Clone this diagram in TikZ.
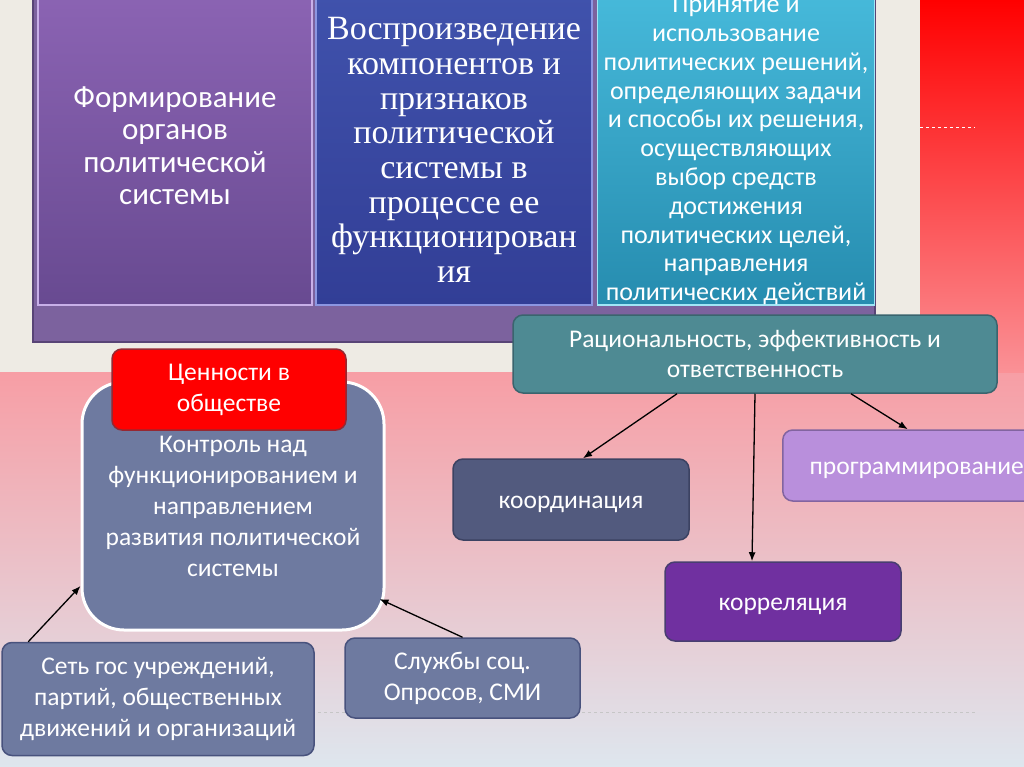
\documentclass[tikz,border=0pt]{standalone}
\usepackage{fontspec}
\setmainfont{Carlito}
\newfontfamily\cambria{Liberation Serif}
\usepackage{tikz}
\usetikzlibrary{arrows.meta,positioning,calc}

\definecolor{slidebeige}{RGB}{238,235,228}
\definecolor{pinktop}{RGB}{247,158,165}
\definecolor{pinkmid}{RGB}{244,216,224}
\definecolor{bluegray}{RGB}{222,230,238}
\definecolor{redfade}{RGB}{250,145,150}
\definecolor{formtop}{RGB}{140,100,180}
\definecolor{formbot}{RGB}{104,74,145}
\definecolor{formedge}{RGB}{200,175,232}
\definecolor{reprotop}{RGB}{64,82,172}
\definecolor{reprobot}{RGB}{50,62,150}
\definecolor{reproedge}{RGB}{140,150,225}
\definecolor{adopttop}{RGB}{70,185,218}
\definecolor{adoptbot}{RGB}{38,140,175}
\definecolor{adoptedge}{RGB}{160,230,245}
\definecolor{framefill}{RGB}{124,98,158}
\definecolor{frameedge}{RGB}{88,68,118}
\definecolor{ratfill}{RGB}{78,138,147}
\definecolor{ratedge}{RGB}{58,100,110}
\definecolor{slatefill}{RGB}{110,122,160}
\definecolor{slateedge}{RGB}{72,82,125}
\definecolor{valueedge}{RGB}{150,40,50}
\definecolor{coordfill}{RGB}{82,90,126}
\definecolor{coordedge}{RGB}{60,66,98}
\definecolor{progfill}{RGB}{185,143,220}
\definecolor{progedge}{RGB}{130,100,160}
\definecolor{corrfill}{RGB}{112,48,160}
\definecolor{corredge}{RGB}{72,62,112}

\begin{document}
\begin{tikzpicture}[
  x=1pt, y=-1pt,
  pillar/.style={align=center, text=white, inner sep=0pt, line width=1.5pt, minimum height=310},
  box/.style={draw, rounded corners=10pt, line width=1.5pt, align=center, text=white, inner sep=0pt,
    font=\fontsize{25.5}{31}\selectfont},
  oneline/.style={text height=18pt, text depth=0pt},
  link/.style={-{Latex[length=9pt,width=7pt]}, line width=1.3pt}
]
\useasboundingbox (0,0) rectangle (1024,767);
\clip (0,0) rectangle (1024,767);

% background
\shade[top color=pinktop, middle color=pinkmid, bottom color=bluegray] (0,372) rectangle (1024,767);
\shade[top color=red, bottom color=redfade] (920,0) rectangle (1024,372);
\fill[slidebeige] (0,0) rectangle (920,372);
\draw[white, dashed, line width=0.8pt] (920,127) -- (975,127);
\draw[gray!45, dashed, line width=0.8pt] (30,712) -- (975,712);

% top panels
\fill[framefill, draw=frameedge, line width=1.5pt] (33,-5) rectangle (875,342);
\node[pillar, minimum width=274, minimum height=319, top color=formtop, bottom color=formbot, draw=formedge,
  font=\fontsize{31}{32.5}\selectfont] (form) at (175,145.5)
  {Формирование\\органов\\политической\\системы};
\node[pillar, minimum width=276, top color=reprotop, bottom color=reprobot, draw=reproedge,
  font=\cambria\fontsize{34}{34.7}\selectfont] (repro) at (454,150)
  {Воспроизведение\\компонентов и\\признаков\\политической\\системы в\\процессе ее\\функционирован\\ия};
\node[pillar, minimum width=277, minimum height=305, top color=adopttop, bottom color=adoptbot, draw=adoptedge,
  font=\fontsize{26}{28.8}\selectfont, right=4pt of repro.south east, anchor=south west] (adopt)
  {Принятие и\\использование\\политических решений,\\определяющих задачи\\и способы их решения,\\осуществляющих\\выбор средств\\достижения\\политических целей,\\направления\\политических действий};

% lower boxes
\node[box, fill=slatefill, draw=white, line width=3pt, rounded corners=42pt,
  minimum width=302, minimum height=248] (ctrl) at (233,506)
  {Контроль над\\функционированием и\\направлением\\развития политической\\системы};
\node[box, fill=red, draw=valueedge, minimum width=234, minimum height=81] (values) at (229,389.5)
  {Ценности в\\обществе};
\node[box, fill=ratfill, draw=ratedge, minimum width=484, minimum height=78,
  font=\fontsize{25.5}{30}\selectfont] (rat) at (755,354)
  {Рациональность, эффективность и\\ответственность};
\node[box, oneline, fill=coordfill, draw=coordedge, minimum width=236, minimum height=81] (coord) at (571,499.5)
  {координация};
\node[box, oneline, fill=progfill, draw=progedge, minimum width=268, minimum height=71, anchor=west] (prog) at (782,465.5)
  {программирование};
\node[box, oneline, fill=corrfill, draw=corredge, minimum width=236, minimum height=79] (corr) at (783,601.5)
  {корреляция};
\node[box, fill=slatefill, draw=slateedge, minimum width=312, minimum height=113] (net) at (158,699)
  {Сеть гос учреждений,\\партий, общественных\\движений и организаций};
\node[box, fill=slatefill, draw=slateedge, minimum width=235, minimum height=80] (poll) at (462.5,678)
  {Службы соц.\\Опросов, СМИ};

% arrows
\draw[link] ([xshift=-78pt]rat.south) -- ([xshift=12pt]coord.north);
\draw[link] (rat.south) -- ([xshift=-31pt]corr.north);
\draw[link] ([xshift=96pt]rat.south) -- ([xshift=-9pt]prog.north);
\draw[link] ([xshift=27pt]net.north west) -- ([yshift=-80pt]ctrl.west);
\draw[link] (poll.north) -- ([xshift=-6pt,yshift=-93pt]ctrl.east);
\end{tikzpicture}
\end{document}
